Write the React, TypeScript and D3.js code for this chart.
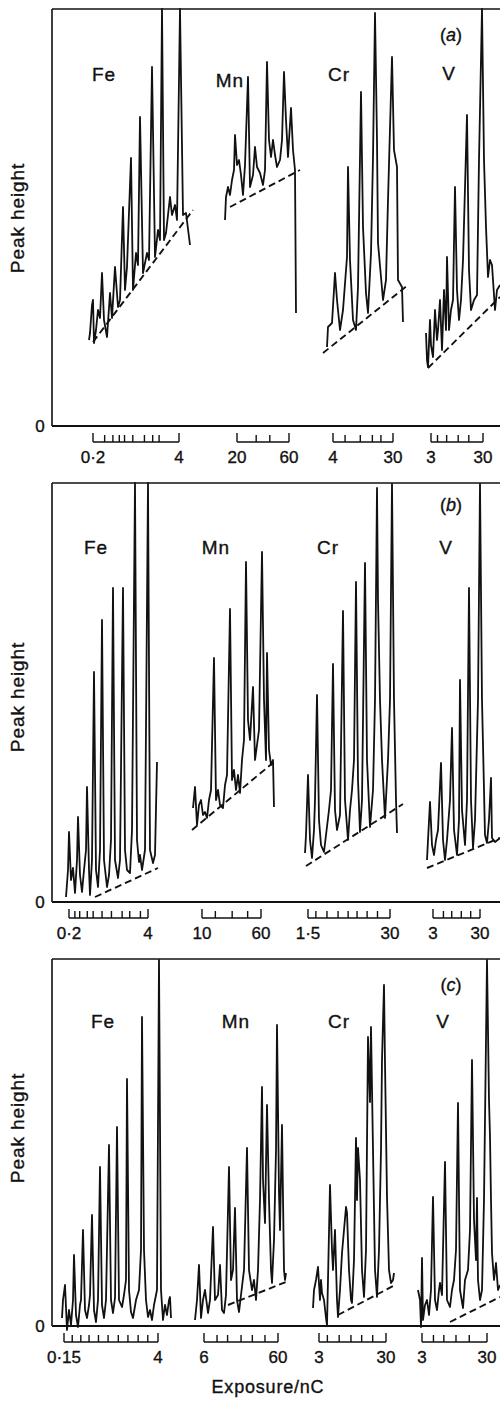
import React from 'react';
import { scaleLinear, scaleLog, line } from 'd3';

type Pt = [number, number];

// x = chart units right of the peak-height axis, y = peak height above zero
const feA: Pt[] = [[37,86],[38,93],[40,121],[41,126],[42,83],[44,96],[46,116],[48,108],[50,153],[52,106],[55,89],[58,133],[60,108],[63,159],[66,119],[68,126],[71,219],[73,136],[75,159],[79,268],[81,136],[84,173],[86,161],[88,309],[91,153],[95,173],[97,166],[100,359],[103,169],[106,196],[108,186],[110,417],[112,186],[114,193],[118,229],[120,211],[123,221],[125,206],[128,417],[131,211],[134,213],[138,181]];
const mnA: Pt[] = [[173,206],[174,229],[176,239],[178,231],[180,246],[182,256],[183,291],[185,261],[187,266],[189,251],[191,231],[193,261],[196,349],[198,239],[201,251],[203,279],[205,259],[208,253],[211,241],[213,256],[215,364],[217,286],[219,269],[221,286],[223,271],[225,259],[228,266],[230,286],[232,354],[234,306],[236,269],[239,318],[241,276],[243,256],[244,113]];
const crA: Pt[] = [[275,79],[276,99],[280,103],[283,153],[285,126],[288,96],[291,116],[295,169],[296,259],[298,166],[301,106],[304,96],[306,139],[309,334],[311,199],[314,133],[316,113],[319,173],[321,269],[323,413],[325,286],[326,183],[329,149],[331,126],[334,146],[336,226],[340,369],[342,276],[345,259],[346,146],[350,139],[351,104]];
const vA: Pt[] = [[374,93],[375,66],[376,59],[378,106],[379,81],[381,69],[383,116],[385,86],[386,96],[388,126],[390,76],[392,136],[394,96],[395,169],[397,96],[399,116],[401,126],[403,239],[405,136],[407,106],[409,126],[411,166],[415,311],[417,156],[419,116],[422,126],[425,131],[427,266],[430,417],[432,266],[434,199],[436,149],[438,166],[440,161],[443,116],[445,136],[448,141]];

const feB: Pt[] = [[14,5],[16,32],[17,70],[19,22],[21,34],[23,9],[25,42],[26,85],[28,27],[30,10],[32,32],[34,52],[35,115],[37,32],[38,7],[40,42],[42,230],[44,32],[46,15],[48,52],[50,282],[52,42],[55,15],[57,27],[59,62],[61,314],[63,42],[66,24],[68,42],[71,314],[73,52],[75,32],[78,29],[80,72],[83,419],[85,62],[87,40],[88,47],[90,32],[93,52],[96,419],[98,52],[101,39],[103,47],[105,140]];
const mnB: Pt[] = [[141,94],[143,115],[145,77],[147,97],[149,102],[151,87],[153,90],[155,84],[157,102],[159,112],[162,244],[164,102],[166,112],[168,97],[171,94],[173,117],[175,127],[178,293],[180,122],[182,132],[184,112],[186,127],[188,109],[190,142],[192,162],[194,340],[196,182],[198,162],[201,215],[203,142],[205,157],[207,172],[210,350],[212,202],[214,142],[215,249],[217,152],[219,137],[221,142],[222,95]];
const crB: Pt[] = [[253,49],[254,67],[256,127],[258,62],[260,44],[262,72],[263,102],[265,207],[267,82],[269,57],[272,50],[274,67],[277,92],[279,112],[281,238],[283,92],[285,72],[288,87],[291,291],[293,102],[296,62],[298,92],[300,112],[302,142],[304,320],[306,122],[308,70],[310,102],[313,339],[315,142],[318,75],[321,112],[323,202],[325,414],[326,302],[328,202],[330,142],[333,84],[336,142],[338,202],[340,418],[342,202],[344,102],[345,69]];
const vB: Pt[] = [[375,42],[376,62],[378,100],[380,57],[382,47],[384,62],[386,72],[389,139],[391,62],[393,42],[395,62],[398,102],[400,174],[402,72],[405,47],[407,82],[408,222],[410,92],[413,57],[415,102],[417,314],[419,102],[421,54],[423,82],[426,202],[428,418],[430,202],[433,67],[435,59],[437,82],[439,124],[440,64],[443,60],[448,64]];

const feC: Pt[] = [[10,8],[11,26],[13,41],[15,-4],[17,16],[19,1],[21,26],[22,71],[24,11],[26,-1],[28,21],[29,26],[31,96],[33,16],[35,8],[37,21],[38,31],[40,111],[42,16],[44,4],[46,26],[48,159],[50,21],[52,8],[54,26],[57,181],[59,26],[61,13],[63,28],[65,199],[67,26],[70,19],[72,31],[74,46],[75,247],[77,36],[79,14],[81,8],[84,26],[87,36],[89,76],[90,309],[92,76],[94,26],[96,9],[98,16],[100,6],[102,21],[105,36],[107,366],[109,36],[111,6],[113,21],[115,11],[117,26],[118,29],[119,8]];
const mnC: Pt[] = [[143,6],[145,26],[147,61],[149,8],[151,26],[153,36],[156,13],[158,26],[161,99],[163,26],[166,31],[168,61],[170,16],[172,13],[174,31],[177,159],[179,46],[181,56],[183,118],[185,26],[187,14],[189,31],[192,56],[195,178],[197,56],[200,36],[202,46],[204,26],[206,56],[208,126],[210,239],[211,146],[213,103],[215,221],[217,126],[219,56],[220,43],[222,86],[224,176],[225,301],[227,133],[228,96],[230,201],[232,56],[233,46],[234,53]];
const crC: Pt[] = [[261,18],[262,36],[264,46],[266,59],[268,26],[269,46],[270,33],[272,26],[274,8],[275,1],[276,46],[278,141],[280,76],[281,56],[283,96],[285,26],[286,9],[288,36],[290,73],[292,96],[294,119],[295,113],[297,56],[299,26],[300,23],[302,66],[304,188],[305,126],[306,178],[308,146],[310,56],[312,29],[314,76],[316,289],[318,224],[319,299],[321,176],[323,56],[325,29],[327,76],[329,176],[330,266],[332,341],[333,263],[335,129],[337,56],[339,43],[341,46],[342,53]];
const vC: Pt[] = [[366,36],[368,26],[369,-1],[370,68],[371,6],[373,21],[375,26],[377,11],[379,36],[381,129],[383,26],[385,16],[387,36],[388,43],[390,31],[391,76],[393,164],[395,26],[398,19],[400,36],[402,46],[404,76],[406,223],[408,36],[411,18],[413,46],[416,56],[418,96],[420,266],[422,106],[424,66],[425,128],[426,46],[428,26],[430,36],[432,126],[435,366],[437,226],[438,189],[439,126],[440,73],[442,46],[444,63],[446,36],[448,41]];

// dashed background lines under each trace
const basesA: Pt[][] = [[[41,84],[141,216]], [[178,219],[248,256]], [[271,73],[356,141]], [[376,58],[448,129]]];
const basesB: Pt[][] = [[[43,5],[106,34]], [[140,72],[222,140]], [[254,36],[351,98]], [[375,34],[448,64]]];
const basesC: Pt[][] = [[[0,0],[0,0]], [[176,21],[234,44]], [[286,11],[343,41]], [[398,4],[448,29]]];

// exposure ticks (nC) for each element, log spaced
const ticksA = [[0.2,0.3,0.4,0.5,0.6,0.8,1.2,1.6,2,4], [20,30,40,60], [4,6,10,15,20,30], [3,4,6,10,16,30]];
const ticksB = [[0.2,0.25,0.3,0.4,0.5,0.7,1,1.5,2,3,4], [10,15,25,40,60], [1.5,2,3,4.5,6.5,9,13,19,30], [3,5,7.5,12,19,30]];
const ticksC = [[0.15,0.2,0.27,0.36,0.5,0.7,1,1.4,2,2.8,4], [6,9,12.5,19,27,40,60], [3,4,6,9,13,19,30], [3,4.5,6.5,10,16,30]];
const tickLabelsA = [['0·2','4'], ['20','60'], ['4','30'], ['3','30']];
const tickLabelsB = [['0·2','4'], ['10','60'], ['1·5','30'], ['3','30']];
const tickLabelsC = [['0·15','4'], ['6','60'], ['3','30'], ['3','30']];

const elements = ['Fe', 'Mn', 'Cr', 'V'];
const panelTags = ['a', 'b', 'c'];

const LEFT = 52;
const RIGHT = 500;
const FONT = '"Liberation Sans", Arial, Helvetica, sans-serif';
const INK = '#111';

const panels = [
  { top: 9, zero: 426, traces: [feA, mnA, crA, vA], bases: basesA, ticks: ticksA, tickLabels: tickLabelsA,
    spans: [[41,127],[185,237],[281,341],[379,431]], names: [[104,81],[230,87],[339,81],[449,80]], tagY: 41, ylabY: 218, dashed: [true,true,true,true] },
  { top: 483, zero: 902, traces: [feB, mnB, crB, vB], bases: basesB, ticks: ticksB, tickLabels: tickLabelsB,
    spans: [[17,96],[150,209],[256,338],[381,428]], names: [[96,554],[216,554],[328,554],[446,554]], tagY: 511, ylabY: 697, dashed: [true,true,true,true] },
  { top: 959, zero: 1326, traces: [feC, mnC, crC, vC], bases: basesC, ticks: ticksC, tickLabels: tickLabelsC,
    spans: [[12,106],[152,226],[267,334],[370,435]], names: [[103,1028],[236,1028],[339,1028],[443,1028]], tagY: 991, ylabY: 1128, dashed: [false,true,true,true] },
];

const x = scaleLinear().domain([0, RIGHT - LEFT]).range([LEFT, RIGHT]);

const txt = { fontFamily: FONT, fill: INK, stroke: INK, strokeWidth: 0.35 } as const;

const Panel = ({ p, i }: { p: typeof panels[number]; i: number }) => {
  const y = scaleLinear().domain([0, p.zero - p.top]).range([p.zero, p.top]);
  const path = line<Pt>().x(d => x(d[0])).y(d => y(d[1]));
  const brY = p.zero + 16;
  return (
    <g>
      {/* frame */}
      <line x1={LEFT} x2={LEFT} y1={p.top} y2={p.zero} stroke={INK} strokeWidth={1.6} />
      <line x1={LEFT} x2={RIGHT} y1={p.top} y2={p.top} stroke={INK} strokeWidth={1.6} />
      <line x1={LEFT} x2={RIGHT} y1={p.zero} y2={p.zero} stroke={INK} strokeWidth={2.2} />
      <text x={40} y={p.zero + 6} fontSize={17} textAnchor="middle" {...txt}>0</text>
      <text transform={`translate(24,${p.ylabY}) rotate(-90)`} fontSize={19} letterSpacing={0.9} textAnchor="middle" {...txt}>Peak height</text>
      <text x={451} y={p.tagY} fontSize={18} textAnchor="middle" {...txt}>
        (<tspan fontStyle="italic">{panelTags[i]}</tspan>)
      </text>

      {p.traces.map((t, k) => (
        <g key={k}>
          {p.dashed[k] && (
            <path d={path(p.bases[k]) || ''} fill="none" stroke={INK} strokeWidth={1.9} strokeDasharray="7 4" />
          )}
          <path d={path(t) || ''} fill="none" stroke={INK} strokeWidth={1.8} strokeLinejoin="round" />
          <text x={p.names[k][0]} y={p.names[k][1]} fontSize={19} letterSpacing={1} textAnchor="middle" {...txt}>{elements[k]}</text>
        </g>
      ))}

      {/* exposure brackets */}
      {p.ticks.map((tv, k) => {
        const ex = scaleLog().domain([tv[0], tv[tv.length - 1]]).range([x(p.spans[k][0]), x(p.spans[k][1])]);
        return (
          <g key={k}>
            <line x1={ex(tv[0])} x2={ex(tv[tv.length - 1])} y1={brY} y2={brY} stroke={INK} strokeWidth={1.5} />
            {tv.map((v, j) => {
              const end = j === 0 || j === tv.length - 1;
              return <line key={j} x1={ex(v)} x2={ex(v)} y1={brY} y2={brY - (end ? 9 : 7)} stroke={INK} strokeWidth={1.4} />;
            })}
            <text x={ex(tv[0])} y={p.zero + 37} fontSize={17} textAnchor="middle" {...txt}>{p.tickLabels[k][0]}</text>
            <text x={ex(tv[tv.length - 1])} y={p.zero + 37} fontSize={17} textAnchor="middle" {...txt}>{p.tickLabels[k][1]}</text>
          </g>
        );
      })}
    </g>
  );
};

export default function App() {
  return (
    <svg width={500} height={1401} style={{ position: 'absolute', left: 0, top: 0, background: '#fff' }}>
      {panels.map((p, i) => <Panel key={i} p={p} i={i} />)}
      <text x={268} y={1393} fontSize={18} letterSpacing={0.8} textAnchor="middle" {...txt}>Exposure/nC</text>
    </svg>
  );
}
